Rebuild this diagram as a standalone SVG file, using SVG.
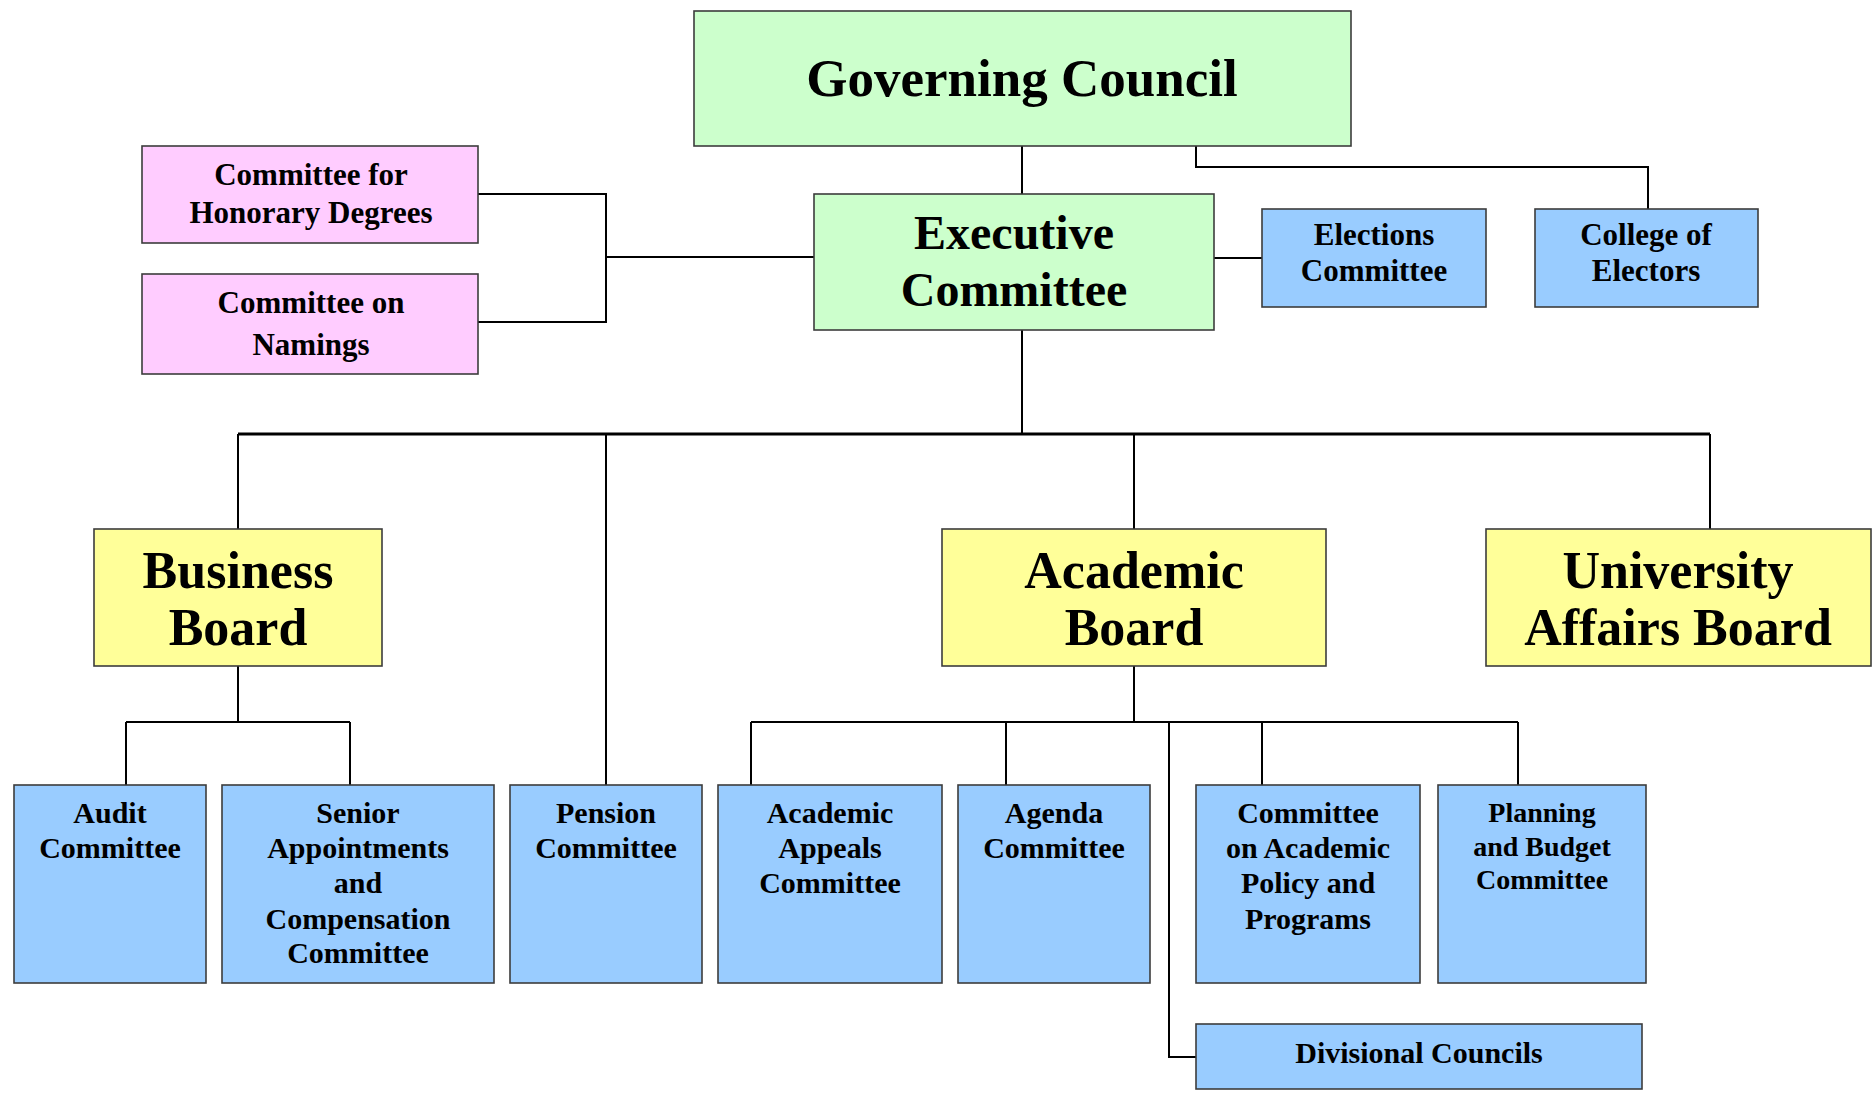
<svg xmlns="http://www.w3.org/2000/svg" width="1874" height="1095" viewBox="0 0 1874 1095">
<style>
.box{stroke:#3c3c3c;stroke-width:1.6}
.g{fill:#ccffcc}.p{fill:#ffccff}.b{fill:#99ccff}.y{fill:#ffff99}
text{font-family:"Liberation Serif","Times New Roman",serif;fill:#000;text-anchor:middle}
.big{font-size:53px;font-weight:bold}
.ex{font-size:48px;font-weight:bold}
.sm{font-size:31px;font-weight:bold}
.brd{font-size:52px;font-weight:bold}
.bt{font-size:30px;font-weight:bold}
.bt2{font-size:28px;font-weight:bold}
.conn{stroke:#000;stroke-width:2;fill:none}
</style>
<rect width="1874" height="1095" fill="#fff"/>
<g id="connectors" class="conn">
<path d="M1022 146V194"/>
<path d="M1196 146V167H1648V209"/>
<path d="M1214 258H1262"/>
<path d="M478 194H606V322H478M606 257H814"/>
<path d="M1022 330V434"/>
<path d="M238 434H1710" stroke-width="3"/>
<path d="M238 434V529M606 434V785M1134 434V529M1710 434V529"/>
<path d="M238 666V722M126 722H350M126 722V785M350 722V785"/>
<path d="M1134 666V722M751 722H1518M751 722V785M1006 722V785M1262 722V785M1518 722V785"/>
<path d="M1169 722V1057H1196"/>
</g>
<g id="governing-council"><rect class="box g" x="694" y="11" width="657" height="135"/><text class="big" x="1022" y="96">Governing Council</text></g>
<g id="executive-committee"><rect class="box g" x="814" y="194" width="400" height="136"/><text class="ex" x="1014" y="249">Executive</text><text class="ex" x="1014" y="306">Committee</text></g>
<g id="honorary-degrees"><rect class="box p" x="142" y="146" width="336" height="97"/><text class="sm" x="311" y="185">Committee for</text><text class="sm" x="311" y="223">Honorary Degrees</text></g>
<g id="namings"><rect class="box p" x="142" y="274" width="336" height="100"/><text class="sm" x="311" y="313">Committee on</text><text class="sm" x="311" y="355">Namings</text></g>
<g id="elections-committee"><rect class="box b" x="1262" y="209" width="224" height="98"/><text class="sm" x="1374" y="245" font-size="28">Elections</text><text class="sm" x="1374" y="281" font-size="28">Committee</text></g>
<g id="college-of-electors"><rect class="box b" x="1535" y="209" width="223" height="98"/><text class="sm" x="1646" y="245">College of</text><text class="sm" x="1646" y="281">Electors</text></g>
<g id="business-board"><rect class="box y" x="94" y="529" width="288" height="137"/><text class="brd" x="238" y="588">Business</text><text class="brd" x="238" y="645">Board</text></g>
<g id="academic-board"><rect class="box y" x="942" y="529" width="384" height="137"/><text class="brd" x="1134" y="588">Academic</text><text class="brd" x="1134" y="645">Board</text></g>
<g id="university-affairs-board"><rect class="box y" x="1486" y="529" width="385" height="137"/><text class="brd" x="1678" y="588">University</text><text class="brd" x="1678" y="645">Affairs Board</text></g>
<g id="audit-committee"><rect class="box b" x="14" y="785" width="192" height="198"/><text class="bt" x="110" y="823">Audit</text><text class="bt" x="110" y="858">Committee</text></g>
<g id="senior-appointments"><rect class="box b" x="222" y="785" width="272" height="198"/><text class="bt" x="358" y="823">Senior</text><text class="bt" x="358" y="858">Appointments</text><text class="bt" x="358" y="893">and</text><text class="bt" x="358" y="929">Compensation</text><text class="bt" x="358" y="963">Committee</text></g>
<g id="pension-committee"><rect class="box b" x="510" y="785" width="192" height="198"/><text class="bt" x="606" y="823">Pension</text><text class="bt" x="606" y="858">Committee</text></g>
<g id="academic-appeals"><rect class="box b" x="718" y="785" width="224" height="198"/><text class="bt" x="830" y="823">Academic</text><text class="bt" x="830" y="858">Appeals</text><text class="bt" x="830" y="893">Committee</text></g>
<g id="agenda-committee"><rect class="box b" x="958" y="785" width="192" height="198"/><text class="bt" x="1054" y="823">Agenda</text><text class="bt" x="1054" y="858">Committee</text></g>
<g id="academic-policy"><rect class="box b" x="1196" y="785" width="224" height="198"/><text class="bt" x="1308" y="823">Committee</text><text class="bt" x="1308" y="858">on Academic</text><text class="bt" x="1308" y="893">Policy and</text><text class="bt" x="1308" y="929">Programs</text></g>
<g id="planning-budget"><rect class="box b" x="1438" y="785" width="208" height="198"/><text class="bt2" x="1542" y="822">Planning</text><text class="bt2" x="1542" y="856">and Budget</text><text class="bt2" x="1542" y="889">Committee</text></g>
<g id="divisional-councils"><rect class="box b" x="1196" y="1024" width="446" height="65"/><text class="bt" x="1419" y="1063">Divisional Councils</text></g>
</svg>
